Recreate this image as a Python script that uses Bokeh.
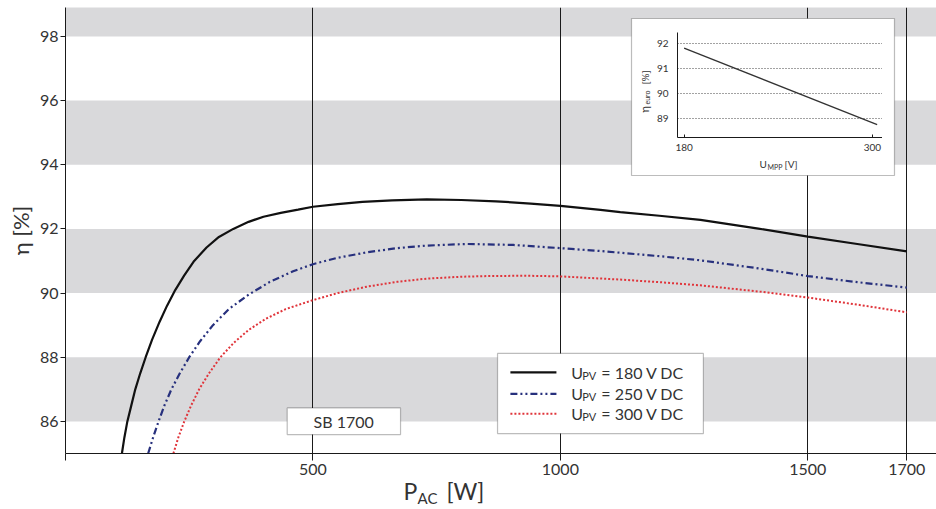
import math
from bokeh.plotting import figure
from bokeh.models import Range1d, FixedTicker, BoxAnnotation, Label
from bokeh.layouts import column
from bokeh.embed import file_html
from bokeh.resources import INLINE

# ---------------- data ----------------
p180_x = [114, 119, 125, 133, 141, 151, 162, 175, 190, 205, 222, 240, 260, 285, 310, 339, 370, 400, 435, 470,
          500, 550, 600, 660, 730, 800, 870, 940, 1000, 1081, 1121, 1200, 1283, 1400, 1500, 1600, 1700]
p180_y = [85.0, 85.5, 86.0, 86.5, 87.0, 87.5, 88.0, 88.55, 89.1, 89.6, 90.1, 90.55, 91.0, 91.42, 91.75, 92.0,
          92.22, 92.38, 92.5, 92.6, 92.69, 92.77, 92.84, 92.89, 92.92, 92.9, 92.86, 92.79, 92.72, 92.59, 92.52,
          92.41, 92.28, 92.01, 91.76, 91.53, 91.30]

p250_x = [167, 177, 188, 200, 214, 231, 250, 272, 298, 330, 370, 413, 460, 500, 550, 609, 670, 730, 811, 905,
          1000, 1081, 1200, 1283, 1400, 1500, 1600, 1700]
p250_y = [85.0, 85.5, 86.0, 86.5, 87.0, 87.5, 88.0, 88.5, 89.0, 89.5, 89.95, 90.35, 90.68, 90.9, 91.1, 91.27,
          91.4, 91.48, 91.53, 91.5, 91.4, 91.31, 91.15, 91.02, 90.77, 90.53, 90.34, 90.17]

p300_x = [218, 228, 240, 254, 270, 290, 313, 340, 370, 405, 445, 500, 550, 609, 670, 730, 800, 852, 930, 1000,
          1121, 1200, 1283, 1400, 1500, 1600, 1700]
p300_y = [85.0, 85.5, 86.0, 86.5, 87.0, 87.5, 88.0, 88.45, 88.85, 89.2, 89.5, 89.78, 90.0, 90.2, 90.35, 90.45,
          90.51, 90.53, 90.54, 90.52, 90.42, 90.34, 90.24, 90.05, 89.86, 89.64, 89.4]

series_labels = ["180", "250", "300"]

band_bottom = [86, 90, 94, 98]
band_top = [88, 92, 96, 100]

x_ticks = [0, 500, 1000, 1500, 1700]
grid_ticks = [500, 1000, 1500, 1700]
y_ticks = [86, 88, 90, 92, 94, 96, 98]

inset_u = [180, 303]
inset_eta = [91.8, 88.75]
inset_x_ticks = [180, 300]
inset_y_ticks = [89, 90, 91, 92]

FONT = "Lato"
TXT = "#333333"

# ---------------- main figure ----------------
p = figure(width=936, height=509, x_range=Range1d(0, 1760), y_range=Range1d(85.0, 98.9),
           output_backend="svg", toolbar_location=None,
           min_border_left=65, min_border_right=0, min_border_top=7, min_border_bottom=56)
p.outline_line_color = None
p.background_fill_color = "white"

for b, t in zip(band_bottom, band_top):
    p.add_layout(BoxAnnotation(bottom=b, top=t, fill_color="#d9d9db", fill_alpha=1.0,
                               line_color=None, level="image"))

p.xgrid.ticker = FixedTicker(ticks=grid_ticks)
p.xgrid.grid_line_color = "#1a1a1a"
p.xgrid.grid_line_width = 1
p.ygrid.grid_line_color = None

p.xaxis.ticker = FixedTicker(ticks=x_ticks)
p.xaxis.major_label_overrides = {0: ""}
p.xaxis.major_tick_out = 7
p.xaxis.major_tick_in = 0
p.xaxis.minor_tick_line_color = None
p.xaxis.major_label_standoff = 3

p.yaxis.ticker = FixedTicker(ticks=y_ticks)
p.yaxis.major_tick_out = 5
p.yaxis.major_tick_in = 0
p.yaxis.minor_tick_line_color = None
p.yaxis.major_label_standoff = 2
p.yaxis.axis_label = "η [%]"
p.yaxis.axis_label_standoff = 3
p.yaxis.axis_label_text_font = FONT
p.yaxis.axis_label_text_font_size = "22px"
p.yaxis.axis_label_text_font_style = "normal"
p.yaxis.axis_label_text_color = TXT

for ax in (p.xaxis, p.yaxis):
    ax.axis_line_color = "#1a1a1a"
    ax.major_tick_line_color = "#1a1a1a"
    ax.major_label_text_font = FONT
    ax.major_label_text_font_size = "16px"
    ax.major_label_text_color = TXT

# white boxes (drawn over the grid, under the curves)
p.add_layout(BoxAnnotation(left=448, right=677, bottom=85.59, top=86.42, fill_color="white",
                           fill_alpha=1.0, line_color="#222222", line_width=1.2, level="underlay"))
p.add_layout(BoxAnnotation(left=873, right=1289, bottom=85.62, top=88.12, fill_color="white",
                           fill_alpha=1.0, line_color="#222222", line_width=1.2, level="underlay"))
p.add_layout(BoxAnnotation(left=1143.7, right=1675.1, bottom=93.664, top=98.557, fill_color="white",
                           fill_alpha=1.0, line_color="#222222", line_width=1.2, level="underlay"))

# curves
styles = [dict(line_color="#111111", line_width=2.2),
          dict(line_color="#27307d", line_width=2.2, line_dash="7 3 2 3 2 3"),
          dict(line_color="#e0343a", line_width=2.0, line_dash="2 2")]
p.line(p180_x, p180_y, **styles[0])
p.line(p250_x, p250_y, **styles[1])
p.line(p300_x, p300_y, **styles[2])

# SB 1700 label
p.add_layout(Label(x=562, y=86.0, text="SB 1700", text_font=FONT, text_font_size="16px",
                   text_color=TXT, text_align="center", text_baseline="middle"))

# legend
rows_y = [87.53, 86.86, 86.24]
for ry, st, lab in zip(rows_y, styles, series_labels):
    p.line([899, 992], [ry, ry], **st)
    p.add_layout(Label(x=1022, y=ry, text="U", text_font=FONT, text_font_size="16px",
                       text_color=TXT, text_baseline="middle"))
    p.add_layout(Label(x=1022, y=ry, x_offset=11, y_offset=-3, text="PV", text_font=FONT,
                       text_font_size="11px", text_color=TXT, text_baseline="middle"))
    p.add_layout(Label(x=1022, y=ry, x_offset=30, text=f"= {lab} V DC", text_font=FONT,
                       text_font_size="16px", text_color=TXT, text_baseline="middle"))

# ---------------- inset figure (same side borders as the main one) ----------------
q = figure(width=270, height=157, x_range=Range1d(175.8, 306.4), y_range=Range1d(88.24, 92.42),
           output_backend="svg", toolbar_location=None,
           min_border_left=65, min_border_right=0, min_border_top=14, min_border_bottom=38)
q.background_fill_color = None
q.border_fill_color = None
q.outline_line_color = None
q.margin = (-491, 0, 334, 612)

q.xgrid.grid_line_color = None
q.ygrid.ticker = FixedTicker(ticks=inset_y_ticks)
q.ygrid.grid_line_color = "#444444"
q.ygrid.grid_line_dash = "1 2"
q.ygrid.grid_line_width = 1

q.xaxis.ticker = FixedTicker(ticks=inset_x_ticks)
q.yaxis.ticker = FixedTicker(ticks=inset_y_ticks)
q.xaxis.major_tick_in = 3
q.xaxis.major_tick_out = 0
q.yaxis.major_tick_in = 0
q.yaxis.major_tick_out = 0
q.xaxis.major_label_standoff = 6
q.yaxis.major_label_standoff = 9
for ax in (q.xaxis, q.yaxis):
    ax.axis_line_color = "#1a1a1a"
    ax.major_tick_line_color = "#1a1a1a"
    ax.minor_tick_line_color = None
    ax.major_label_text_font = FONT
    ax.major_label_text_font_size = "10px"
    ax.major_label_text_color = TXT

q.line(inset_u, inset_eta, line_color="#333333", line_width=1.3)

# ---------------- overlay for texts with subscripts (page pixel coordinates) ----------------
r = figure(width=936, height=509, x_range=Range1d(65, 936), y_range=Range1d(509, 0),
           x_axis_type=None, y_axis_type=None, output_backend="svg", toolbar_location=None,
           min_border_left=65, min_border_right=0, min_border_top=0, min_border_bottom=0)
r.grid.visible = False
r.background_fill_color = None
r.border_fill_color = None
r.outline_line_color = None
r.margin = (-509, 0, 0, 0)


def txt(x, y, s, size, angle=0.0):
    # (x, y) = left end and vertical centre of the text
    r.add_layout(Label(x=x, y=y, text=s, angle=angle, text_font=FONT, text_font_size=size,
                       text_color=TXT, text_baseline="alphabetic"))


# P_AC [W]
txt(403, 490, "P", "23px")
txt(417, 497, "AC", "15px")
txt(446, 490, "[W]", "23px")

# inset: U_MPP [V]
txt(759, 163, "U", "10px")
txt(767, 166, "MPP", "7px")
txt(784, 163, "[V]", "10px")

# inset: eta_euro [%] (rotated)
ang = math.pi / 2
txt(644, 112, "η", "11px", ang)
txt(646, 104, "euro", "7px", ang)
txt(644, 84, "[%]", "10px", ang)

layout = column(p, q, r)
open("out.html", "w").write(file_html(layout, INLINE))
